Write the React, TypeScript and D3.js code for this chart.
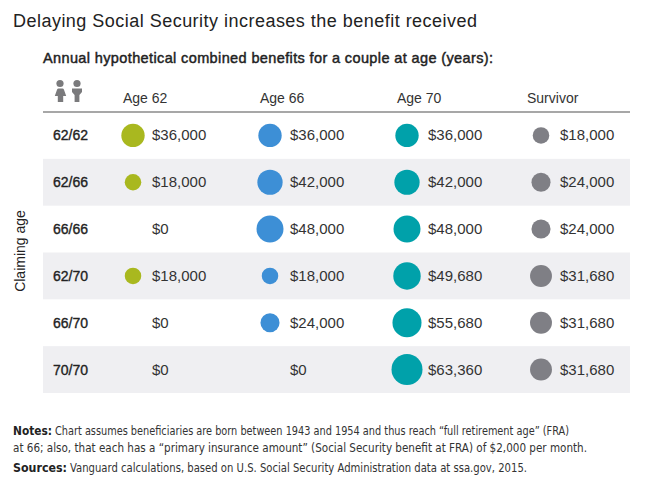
import React, { useEffect, useRef } from 'react';
import * as d3 from 'd3';

// Data
const claimingAges = ['62/62', '62/66', '66/66', '62/70', '66/70', '70/70'];
const columns = ['Age 62', 'Age 66', 'Age 70', 'Survivor'];
const age62 = [36000, 18000, 0, 18000, 0, 0];
const age66 = [36000, 42000, 48000, 18000, 24000, 0];
const age70 = [36000, 42000, 48000, 49680, 55680, 63360];
const survivor = [18000, 24000, 24000, 31680, 31680, 31680];
const colors = ['#a9b81f', '#3d8fd6', '#00a1aa', '#7f7f85'];

const notes1 = 'Chart assumes beneficiaries are born between 1943 and 1954 and thus reach \u201cfull retirement age\u201d (FRA)';
const notes2 = 'at 66; also, that each has a \u201cprimary insurance amount\u201d (Social Security benefit at FRA) of $2,000 per month.';
const sources = 'Vanguard calculations, based on U.S. Social Security Administration data at ssa.gov, 2015.';

const W = 645;
const H = 490;
const FONT = '"Liberation Sans", Arial, sans-serif';
const NARROW = '"Liberation Sans Narrow", "DejaVu Sans Condensed", "Liberation Sans", sans-serif';

export default function App() {
  const svgRef = useRef<SVGSVGElement>(null);

  useEffect(() => {
    if (!svgRef.current) return;
    document.body.style.margin = '0';
    const svg = d3.select(svgRef.current);
    svg.selectAll('*').remove();

    const left = 43;
    const right = 630;
    const series = [age62, age66, age70, survivor];

    const y = d3.scaleBand<string>().domain(claimingAges).range([112, 393]);
    const headerX = d3.scaleOrdinal<string, number>().domain(columns).range([123, 260, 397, 527]);
    const dotX = d3.scaleOrdinal<string, number>().domain(columns).range([133, 270, 407, 541]);
    const valueX = d3.scaleOrdinal<string, number>().domain(columns).range([152, 290, 428, 560]);
    const r = d3.scaleSqrt().domain([0, d3.max(age70) as number]).range([0, 15.5]);
    const fmt = (v: number) => '$' + d3.format(',')(v);

    // Title and subtitle
    svg.append('text')
      .attr('x', 13).attr('y', 27)
      .attr('font-family', FONT).attr('font-size', 18).attr('fill', '#222')
      .attr('textLength', 464).attr('lengthAdjust', 'spacing')
      .text('Delaying Social Security increases the benefit received');

    svg.append('text')
      .attr('x', left).attr('y', 63)
      .attr('font-family', FONT).attr('font-size', 14.5).attr('fill', '#222')
      .attr('stroke', '#222').attr('stroke-width', 0.45)
      .attr('textLength', 450).attr('lengthAdjust', 'spacing')
      .text('Annual hypothetical combined benefits for a couple at age (years):');

    // Striped rows
    svg.selectAll('.stripe')
      .data(claimingAges.filter((_, i) => i % 2 === 1))
      .join('rect')
      .attr('x', left).attr('width', right - left)
      .attr('y', d => y(d) as number).attr('height', y.bandwidth())
      .attr('fill', '#efeff2');

    // Couple icon
    const icon = svg.append('g').attr('fill', '#7a7a7c');
    icon.append('circle').attr('cx', 60).attr('cy', 83.5).attr('r', 3.6);
    icon.append('path').attr('d', 'M57.5,88.5 h5 q1,0 1.4,1 l2.3,6.5 h-3 v6 h-5.4 v-6 h-3 l2.3,-6.5 q0.4,-1 1.4,-1 z');
    icon.append('circle').attr('cx', 77).attr('cy', 83.5).attr('r', 3.6);
    icon.append('path').attr('d', 'M72,88.5 h10 v3.5 l-2.6,3 v7 h-4.8 v-7 l-2.6,-3 z');

    // Column headers
    svg.selectAll('.header')
      .data(columns)
      .join('text')
      .attr('x', d => headerX(d)).attr('y', 103)
      .attr('font-family', FONT).attr('font-size', 14).attr('fill', '#333')
      .text(d => d);

    svg.append('line')
      .attr('x1', left).attr('x2', right).attr('y1', 112).attr('y2', 112)
      .attr('stroke', '#8a8a8a').attr('stroke-width', 1.5);

    // Row labels
    svg.selectAll('.rowlabel')
      .data(claimingAges)
      .join('text')
      .attr('x', 53).attr('y', d => (y(d) as number) + y.bandwidth() / 2 + 5)
      .attr('font-family', FONT).attr('font-size', 14).attr('fill', '#222')
      .attr('stroke', '#222').attr('stroke-width', 0.35)
      .text(d => d);

    // Cells
    columns.forEach((col, ci) => {
      const cells = series[ci].map((v, ri) => ({ v, row: claimingAges[ri] }));
      svg.selectAll(null)
        .data(cells.filter(c => c.v > 0))
        .join('circle')
        .attr('cx', dotX(col))
        .attr('cy', c => (y(c.row) as number) + y.bandwidth() / 2)
        .attr('r', c => r(c.v))
        .attr('fill', colors[ci]);
      svg.selectAll(null)
        .data(cells)
        .join('text')
        .attr('x', valueX(col))
        .attr('y', c => (y(c.row) as number) + y.bandwidth() / 2 + 5)
        .attr('font-family', FONT).attr('font-size', 15).attr('fill', '#333')
        .text(c => fmt(c.v));
    });

    // Vertical axis label
    svg.append('text')
      .attr('transform', 'translate(25,251) rotate(-90)')
      .attr('text-anchor', 'middle')
      .attr('font-family', FONT).attr('font-size', 14).attr('fill', '#222')
      .text('Claiming age');

    // Notes and sources
    const noteLines = [
      { label: 'Notes:', labelLen: 39, text: notes1, x: 55, y: 435, len: 514 },
      { label: '', labelLen: 0, text: notes2, x: 13, y: 452, len: 574 },
      { label: 'Sources:', labelLen: 54, text: sources, x: 70, y: 472, len: 457 },
    ];
    noteLines.forEach(n => {
      if (n.label) {
        svg.append('text')
          .attr('x', 13).attr('y', n.y)
          .attr('font-family', NARROW).attr('font-size', 12).attr('font-weight', 'bold').attr('fill', '#222')
          .attr('textLength', n.labelLen).attr('lengthAdjust', 'spacingAndGlyphs')
          .text(n.label);
      }
      svg.append('text')
        .attr('x', n.x).attr('y', n.y)
        .attr('font-family', NARROW).attr('font-size', 11.5).attr('fill', '#333')
        .attr('textLength', n.len).attr('lengthAdjust', 'spacingAndGlyphs')
        .text(n.text);
    });
  }, []);

  return <svg ref={svgRef} width={W} height={H} style={{ display: 'block', background: '#fff' }} />;
}
